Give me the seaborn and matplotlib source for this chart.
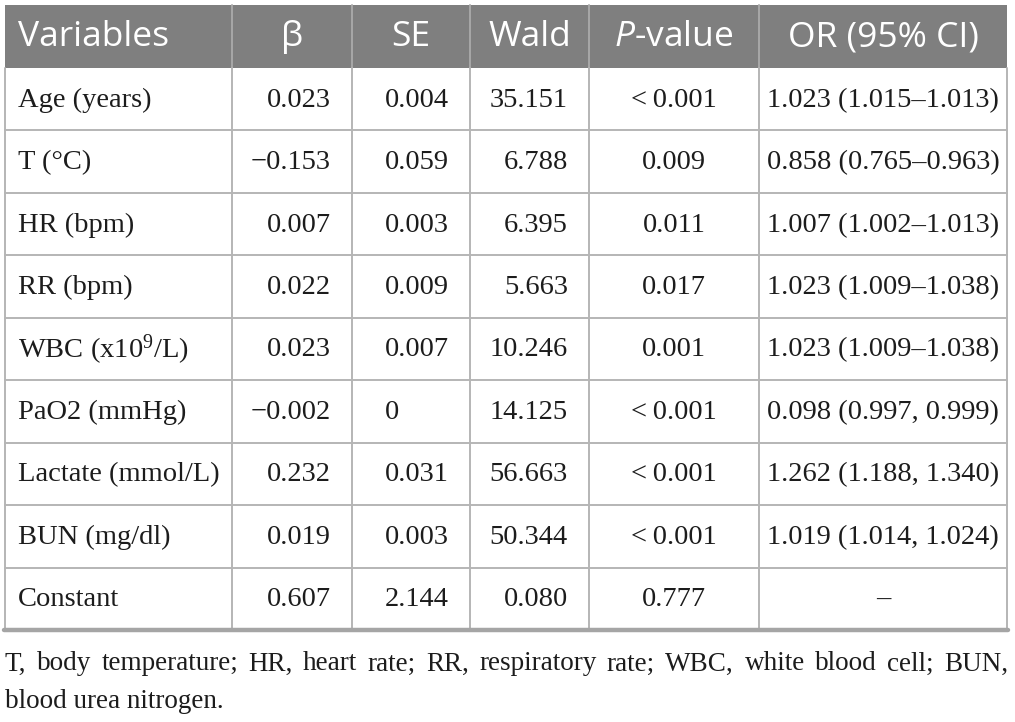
import matplotlib
matplotlib.use("Agg")
import matplotlib.pyplot as plt
from matplotlib.patches import Rectangle
import seaborn as sns

headers = ["Variables", "β", "SE", "Wald", "$\\mathsf{P}$-value", "OR (95% CI)"]
variables = ["Age (years)", "T (°C)", "HR (bpm)", "RR (bpm)", "WBC (x$10^{9}$/L)",
             "PaO2 (mmHg)", "Lactate (mmol/L)", "BUN (mg/dl)", "Constant"]
beta = ["0.023", "\u22120.153", "0.007", "0.022", "0.023", "\u22120.002", "0.232", "0.019", "0.607"]
se = ["0.004", "0.059", "0.003", "0.009", "0.007", "0", "0.031", "0.003", "2.144"]
wald = ["35.151", "6.788", "6.395", "5.663", "10.246", "14.125", "56.663", "50.344", "0.080"]
p_values = ["<\u20090.001", "0.009", "0.011", "0.017", "0.001", "<\u20090.001", "<\u20090.001", "<\u20090.001", "0.777"]
or_ci = ["1.023 (1.015\u20131.013)", "0.858 (0.765\u20130.963)", "1.007 (1.002\u20131.013)",
         "1.023 (1.009\u20131.038)", "1.023 (1.009\u20131.038)", "0.098 (0.997, 0.999)",
         "1.262 (1.188, 1.340)", "1.019 (1.014, 1.024)", "\u2013"]
footnote = ["T, body temperature; HR, heart rate; RR, respiratory rate; WBC, white blood cell; BUN,",
            "blood urea nitrogen."]

sns.set_theme(style="white")
plt.rcParams["mathtext.fontset"] = "custom"
plt.rcParams["mathtext.rm"] = "Liberation Serif"
plt.rcParams["mathtext.sf"] = "Open Sans:italic"
plt.rcParams["mathtext.default"] = "rm"

W, H = 1015, 722
fig = plt.figure(figsize=(W / 100, H / 100), dpi=100)
ax = fig.add_axes([0, 0, 1, 1])
ax.set_xlim(0, W)
ax.set_ylim(H, 0)
ax.axis("off")
renderer = fig.canvas.get_renderer()

col_edges = [5, 232, 352, 470, 589, 759, 1007]
head_top, head_bot, table_bot = 5, 68, 630
n_rows = len(variables)
row_h = (table_bot - head_bot) / n_rows
aligns = ["left", "right", "right", "right", "center", "center"]

line_col = "#b5b5b5"
head_col = "#7f7f7f"
text_col = "#1c1c1c"
serif = ["Liberation Serif", "DejaVu Serif"]
body_size = 20.5
head_size = 25.5

# header band
ax.add_patch(Rectangle((col_edges[0], head_top), col_edges[-1] - col_edges[0],
                       head_bot - head_top, facecolor=head_col, edgecolor="none"))
for x in col_edges[1:-1]:
    ax.plot([x, x], [head_top, head_bot], color="#a8a8a8", lw=1.4)
for j, h in enumerate(headers):
    cy = (head_top + head_bot) / 2 + 1
    if j == 0:
        ax.text(col_edges[0] + 13, cy, h, ha="left", va="center", color="white",
                fontsize=head_size, family="Open Sans")
    else:
        ax.text((col_edges[j] + col_edges[j + 1]) / 2, cy, h, ha="center", va="center",
                color="white", fontsize=head_size, family="Open Sans")

# grid lines
for i in range(n_rows):
    y = head_bot + (i + 1) * row_h
    if i < n_rows - 1:
        ax.plot([col_edges[0], col_edges[-1]], [y, y], color=line_col, lw=1.4)
for x in col_edges:
    ax.plot([x, x], [head_bot, table_bot], color=line_col, lw=1.4)
ax.plot([col_edges[0] - 1, col_edges[-1] + 1], [table_bot, table_bot], color="#a5a5a5", lw=3.2)

# width of the decimal part, for decimal alignment of integers
probe = ax.text(0, 0, ".000", fontsize=body_size, family=serif)
dec_w = probe.get_window_extent(renderer).width
probe.remove()

columns = [variables, beta, se, wald, p_values, or_ci]
for j, col in enumerate(columns):
    for i, val in enumerate(col):
        cy = head_bot + (i + 0.5) * row_h + 1
        if aligns[j] == "left":
            ax.text(col_edges[j] + 13, cy, val, ha="left", va="center",
                    fontsize=body_size, family=serif, color=text_col)
        elif aligns[j] == "right":
            xr = col_edges[j + 1] - 21
            if "." not in val:
                xr -= dec_w
            ax.text(xr, cy, val, ha="right", va="center",
                    fontsize=body_size, family=serif, color=text_col)
        else:
            ax.text((col_edges[j] + col_edges[j + 1]) / 2, cy, val, ha="center", va="center",
                    fontsize=body_size, family=serif, color=text_col)

# footnote, first line justified
foot_size = 19.5
x0, x1 = 5, 1008
words = footnote[0].split()
texts = [ax.text(0, 664, w, ha="left", va="center", fontsize=foot_size,
                 family=serif, color=text_col) for w in words]
widths = [t.get_window_extent(renderer).width for t in texts]
gap = (x1 - x0 - sum(widths)) / (len(words) - 1)
x = x0
for t, w in zip(texts, widths):
    t.set_x(x)
    x += w + gap
ax.text(x0, 701, footnote[1], ha="left", va="center", fontsize=foot_size,
        family=serif, color=text_col)

fig.savefig("out.png", dpi=100, facecolor="white")
